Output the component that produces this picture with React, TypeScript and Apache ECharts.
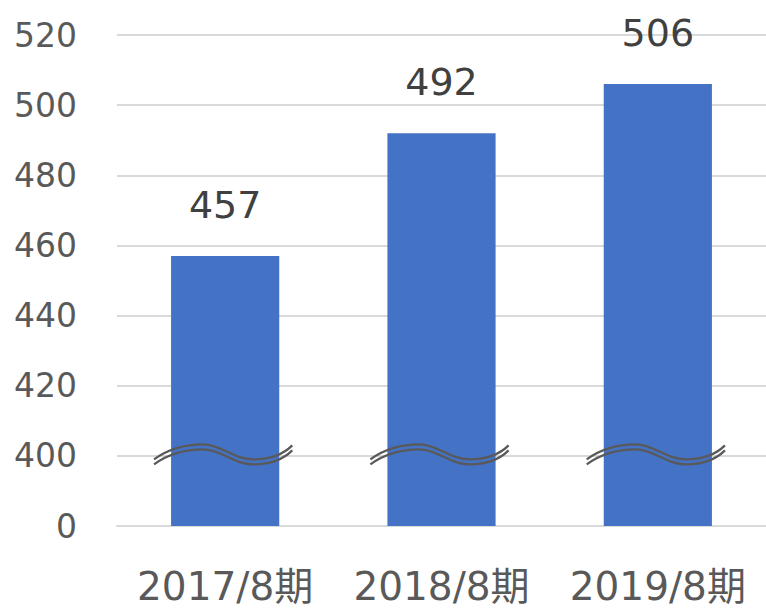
import React, { useEffect, useRef } from "react";
import * as echarts from "echarts";

const categories = ["2017/8期", "2018/8期", "2019/8期"];
const values = [457, 492, 506];
const axisMin = 380; // drawn as "0" (broken axis)
const axisMax = 520;
const axisInterval = 20;
const breakValue = 400;

const FONT = '"DejaVu Sans", "Noto Sans CJK JP", sans-serif';

export default function App() {
  const ref = useRef<HTMLDivElement>(null);
  useEffect(() => {
    if (!ref.current) return;
    const chart = echarts.init(ref.current, undefined, { renderer: "svg" });
    const wave = (cx: number, cy: number, s: number, dy: number) => {
      const p = (x: number, y: number) => `${(cx + x * s).toFixed(2)} ${(cy + y + dy).toFixed(2)}`;
      return (
        `M ${p(-71, 6)} C ${p(-56, -5)} ${p(-40, -9)} ${p(-22, -9)} ` +
        `C ${p(-4, -9)} ${p(8, 6)} ${p(28, 6)} ` +
        `C ${p(46, 6)} ${p(58, 1)} ${p(67, -8)}`
      );
    };
    chart.setOption({
      animation: false,
      grid: { left: 117, right: 0, top: 35, bottom: 84 },
      xAxis: {
        type: "category",
        data: categories,
        axisLine: { show: true, lineStyle: { color: "#d9d9d9", width: 2 } },
        axisTick: { show: false },
        axisLabel: {
          color: "#595959",
          fontSize: 39,
          fontFamily: FONT,
          margin: 41,
          interval: 0,
          hideOverlap: false,
        },
      },
      yAxis: {
        type: "value",
        min: axisMin,
        max: axisMax,
        interval: axisInterval,
        axisLine: { show: false },
        axisTick: { show: false },
        splitLine: { lineStyle: { color: "#d9d9d9", width: 2 } },
        axisLabel: {
          color: "#595959",
          fontSize: 33,
          fontFamily: FONT,
          margin: 40,
          formatter: (v: number) => (v === axisMin ? "0" : String(v)),
        },
      },
      series: [
        {
          type: "bar",
          data: values,
          barWidth: "50%",
          itemStyle: { color: "#4472C4" },
          label: {
            show: true,
            position: "top",
            distance: 32,
            color: "#404040",
            fontSize: 38,
            fontFamily: FONT,
          },
        },
        {
          type: "custom",
          z: 10,
          data: categories.map((_, i) => [i, breakValue]),
          renderItem: (params: any, api: any) => {
            const pt = api.coord([api.value(0), api.value(1)]);
            const band = api.size([1, 0])[0];
            const s = (band * 0.5) / 108;
            const style = { fill: "none", stroke: "#595959", lineWidth: 2.2 };
            return {
              type: "group",
              children: [
                { type: "path", shape: { pathData: wave(pt[0], pt[1], s, -2.5) }, style },
                { type: "path", shape: { pathData: wave(pt[0], pt[1], s, 2.5) }, style },
              ],
            };
          },
        },
      ],
    });
    return () => chart.dispose();
  }, []);
  return (
    <div
      ref={ref}
      style={{ position: "fixed", left: 0, top: 0, width: 766, height: 610, background: "#fff" }}
    />
  );
}
